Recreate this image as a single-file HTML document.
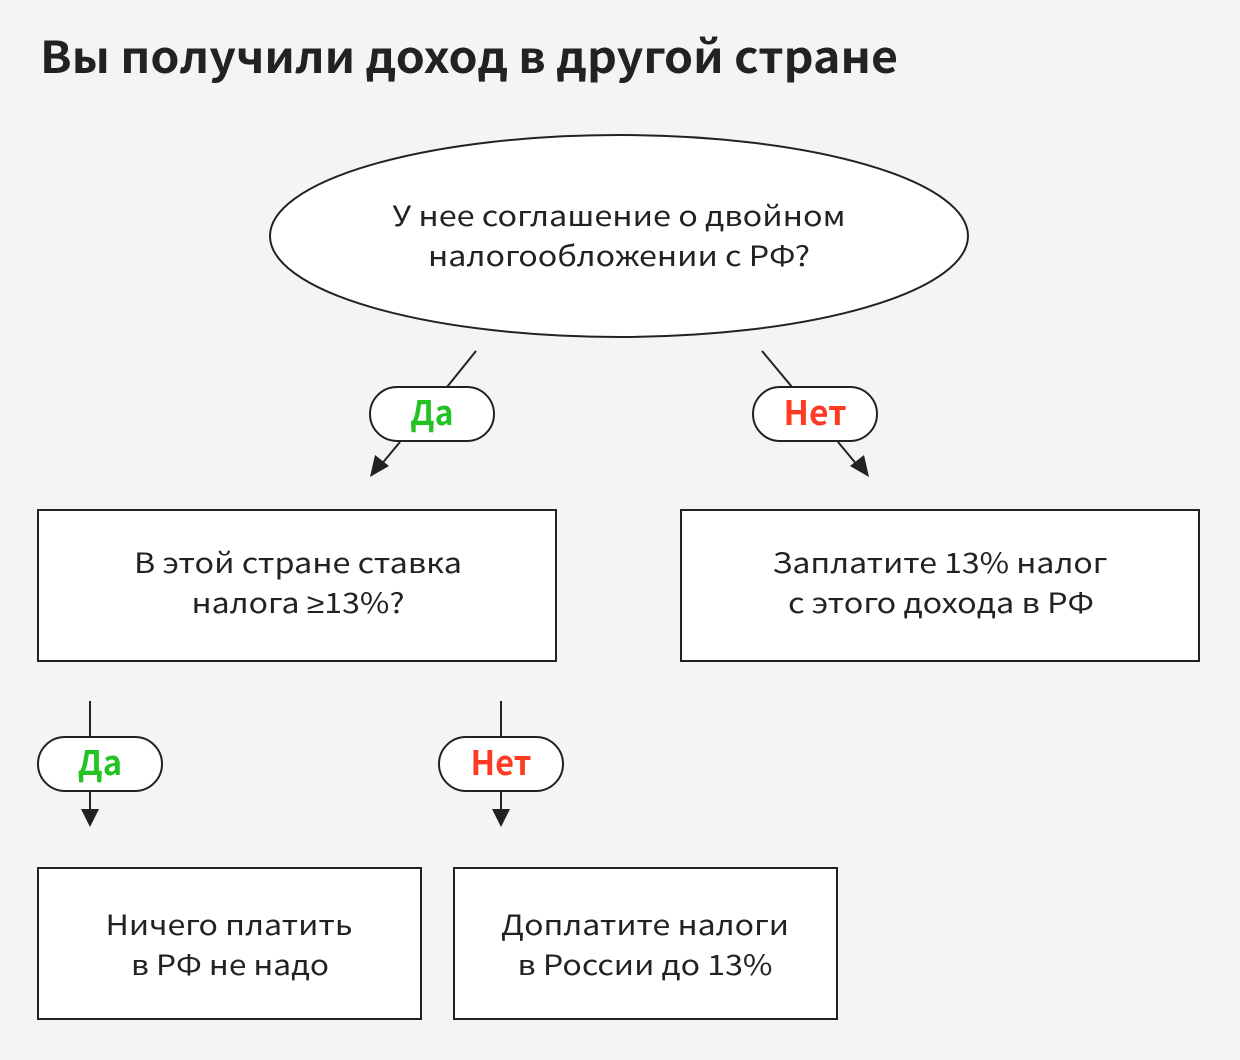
<!DOCTYPE html>
<html><head><meta charset="utf-8">
<style>
html,body{margin:0;padding:0;background:#f4f4f4;}
svg{display:block;}
text{font-family:"Noto Sans CJK SC","Liberation Sans",sans-serif;}
</style></head>
<body>
<svg width="1240" height="1060" viewBox="0 0 1240 1060" xmlns="http://www.w3.org/2000/svg">
<rect width="1240" height="1060" fill="#f4f4f4"/>
<text x="40" y="73" font-size="44" font-weight="700" fill="#222" textLength="858" lengthAdjust="spacingAndGlyphs">Вы получили доход в другой стране</text>

<ellipse cx="619" cy="236" rx="349" ry="101" fill="#fff" stroke="#222" stroke-width="2"/>
<g font-size="28" fill="#222" text-anchor="middle">
<text x="619" y="226" textLength="453" lengthAdjust="spacingAndGlyphs">У нее соглашение о двойном</text>
<text x="619" y="266" textLength="382" lengthAdjust="spacingAndGlyphs">налогообложении с РФ?</text>
</g>

<g stroke="#222" stroke-width="2" fill="none">
<line x1="476" y1="351" x2="447" y2="387"/>
<line x1="400" y1="442" x2="380" y2="466"/>
<line x1="762" y1="351" x2="792" y2="387"/>
<line x1="838" y1="442" x2="858" y2="466"/>
<line x1="90" y1="701" x2="90" y2="737"/>
<line x1="90" y1="791" x2="90" y2="812"/>
<line x1="501" y1="701" x2="501" y2="737"/>
<line x1="501" y1="791" x2="501" y2="812"/>
</g>
<g fill="#222">
<polygon points="370,477 375,455 389,466"/>
<polygon points="869,477 864,455 850,466"/>
<polygon points="90,827 81,809 99,809"/>
<polygon points="501,827 492,809 510,809"/>
</g>

<g fill="#fff" stroke="#222" stroke-width="2">
<rect x="370" y="387" width="124" height="54" rx="27"/>
<rect x="753" y="387" width="124" height="54" rx="27"/>
<rect x="38" y="737" width="124" height="54" rx="27"/>
<rect x="439" y="737" width="124" height="54" rx="27"/>
<rect x="38" y="510" width="518" height="151"/>
<rect x="681" y="510" width="518" height="151"/>
<rect x="38" y="868" width="383" height="151"/>
<rect x="454" y="868" width="383" height="151"/>
</g>

<g font-size="34" font-weight="700" text-anchor="middle">
<text x="432" y="425" fill="#22c322" textLength="43" lengthAdjust="spacingAndGlyphs">Да</text>
<text x="815" y="425" fill="#ff3a22" textLength="63" lengthAdjust="spacingAndGlyphs">Нет</text>
<text x="100" y="775" fill="#22c322" textLength="44" lengthAdjust="spacingAndGlyphs">Да</text>
<text x="501" y="775" fill="#ff3a22" textLength="61" lengthAdjust="spacingAndGlyphs">Нет</text>
</g>

<g font-size="28" fill="#222" text-anchor="middle">
<text x="298" y="573" textLength="328" lengthAdjust="spacingAndGlyphs">В этой стране ставка</text>
<text x="298" y="613" textLength="213" lengthAdjust="spacingAndGlyphs">налога <tspan font-family="'Liberation Sans', sans-serif">≥</tspan>13%?</text>
<text x="940" y="573" textLength="335" lengthAdjust="spacingAndGlyphs">Заплатите 13% налог</text>
<text x="941" y="613" textLength="306" lengthAdjust="spacingAndGlyphs">с этого дохода в РФ</text>
<text x="229" y="935" textLength="247" lengthAdjust="spacingAndGlyphs">Ничего платить</text>
<text x="230" y="975" textLength="198" lengthAdjust="spacingAndGlyphs">в РФ не надо</text>
<text x="645" y="935" textLength="288" lengthAdjust="spacingAndGlyphs">Доплатите налоги</text>
<text x="645" y="975" textLength="255" lengthAdjust="spacingAndGlyphs">в России до 13%</text>
</g>
</svg>
</body></html>
